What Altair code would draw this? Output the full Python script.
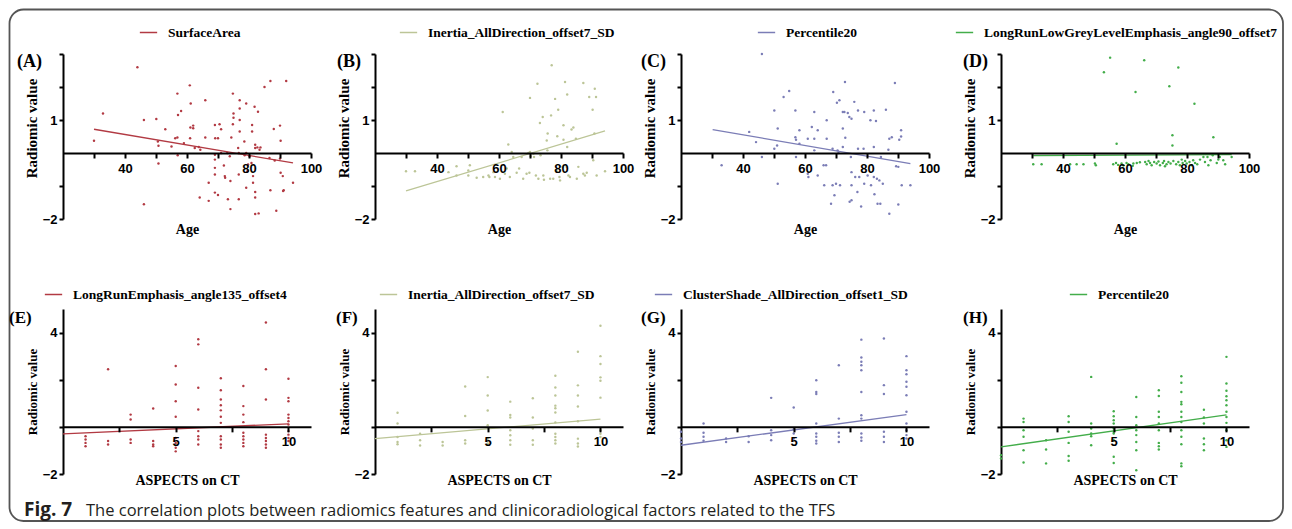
import altair as alt
import pandas as pd

RED = "#b23a43"
OLIVE = "#bcc597"
PURPLE = "#7b7db6"
GREEN = "#43ad4a"

features = ["SurfaceArea", "Inertia_AllDirection_offset7_SD", "Percentile20",
            "LongRunLowGreyLevelEmphasis_angle90_offset7",
            "LongRunEmphasis_angle135_offset4", "Inertia_AllDirection_offset7_SD",
            "ClusterShade_AllDirection_offset1_SD", "Percentile20"]
letters = ["(A)", "(B)", "(C)", "(D)", "(E)", "(F)", "(G)", "(H)"]
colors = [RED, OLIVE, PURPLE, GREEN, RED, OLIVE, PURPLE, GREEN]

# ---- top row: (Age, radiomic value) ----
A_points = [(44,2.6),(32.9,1.2),(30,0.37),(46.1,1.0),(50.1,1.03),(53,0.72),(50.6,0.35),(50.8,0.22),(50.8,-0.32),(46.1,-1.55),(55,0.2),(56.2,0.45),(56.9,0.47),(56.9,1.8),(57.1,1.15),(58.1,1.27),(59,0.3),(60.9,2.05),(61.2,1.5),(61.1,0.77),(62,0.75),(62,0.83),(61,0.45),(62.5,0.15),(63.8,0.18),(64.3,0.1),(57,-0.07),(65.9,1.6),(65.9,0.47),(64.1,-1.35),(67,-0.9),(67,-1.45),(69,0.85),(69.1,0.45),(70,0.45),(71,0.72),(70.5,0.87),(69,-0.05),(69,-0.2),(69,-0.45),(69,-0.65),(69,-1.2),(70,-1.27),(71,0),(71.9,-0.38),(72.2,-0.7),(72.3,-0.75),(73.2,-1.4),(74,-0.85),(74,-1.7),(73.8,-0.1),(73,0),(74.3,0.47),(74.8,1.8),(75,1.2),(75,1.07),(74.8,0.87),(76.5,0.15),(76.7,0),(76.7,-0.65),(76.7,-1.4),(77,1.6),(77,1.35),(77,1.0),(77,0.65),(78.5,0.35),(78.6,-0.07),(79.1,1.5),(79.1,0),(79.1,-1.05),(79.5,-0.55),(79.7,-0.35),(80.2,-0.1),(80.8,-0.3),(81,0.85),(81,0.65),(81.3,-0.7),(81.3,-0.9),(81.8,1.4),(82,0.25),(82,0.15),(82,-1.35),(82,-1.18),(82,-1.85),(82.7,0.17),(82.9,1.25),(83.1,-1.83),(83.7,0.17),(83.4,0.1),(85,2.0),(86.9,2.18),(86.9,-1.13),(86.6,-0.15),(88,0.73),(88.3,-0.23),(88.8,-1.75),(90,0.83),(90.2,0.37),(90.2,-0.6),(90.9,-0.7),(91.2,-1.13),(91,-1.15),(92,2.18),(94.2,-0.9),(90,-0.17)]
B_points = [(30,-0.55),(32.9,-0.55),(43.7,-0.58),(46.3,-0.4),(46.3,-0.68),(50.1,-0.53),(50.6,-0.37),(50.1,-0.68),(52.8,-0.75),(54.9,-0.73),(56.6,-0.68),(56.9,-0.73),(58.2,-0.58),(58.7,-0.73),(60.3,-0.78),(61.2,1.24),(61.9,-0.63),(62.5,-0.47),(63,0.26),(63.5,-0.73),(64.1,0.03),(64.6,-0.12),(65.7,-0.6),(66.5,-0.47),(67.3,-0.12),(67.8,-0.78),(68.9,-0.63),(69.5,0),(70,1.67),(70,0.03),(70.2,-0.1),(69.8,-0.6),(71.1,-0.02),(71.3,-0.12),(71.9,-0.68),(72.4,2.1),(72.7,-0.78),(73.2,0.91),(73.4,-0.07),(74.1,1.09),(74.3,-0.68),(74.5,-0.81),(75.4,0.38),(75.7,0.59),(75.6,0.08),(76.5,-0.78),(76.8,1.14),(77,2.66),(77.5,-0.78),(78.1,1.64),(78.6,-0.55),(78.8,0.51),(79.1,1.31),(79.5,-0.73),(79.7,-0.83),(80.5,-0.42),(80.8,0.84),(80.8,0.4),(81.3,2.15),(81.8,-0.42),(82,0.18),(82,1.77),(82.4,-0.68),(82.9,-0.73),(83.4,0.71),(84,0.77),(84.8,0.43),(85.1,-0.78),(85.6,-0.42),(87.2,2.12),(87.2,-0.63),(87.7,-0.68),(88.3,-0.6),(89.1,1.7),(90.2,1.31),(90.4,-0.22),(90.8,0.59),(90.9,1.95),(91.3,1.7),(91.5,-0.68),(94.2,-0.55)]
C_points = [(33.1,-0.37),(42,0.64),(44.2,0.33),(46.1,3.0),(46.1,-0.12),(50.1,1.29),(50.1,0.13),(51,0.23),(51.2,0.74),(51.2,-0.93),(53.1,1.7),(54.9,1.88),(56.9,1.29),(56.9,0.48),(57.1,0.4),(57.1,-0.12),(58.2,0.69),(58.2,0.28),(60.9,0.43),(60.9,-0.63),(61.1,-0.73),(62.2,0.79),(63,1.24),(63,0.43),(63,0.08),(64.1,0.69),(64.1,-0.68),(66,-0.37),(66.8,-0.37),(67,0.99),(67,0.43),(66.2,-0.98),(68.4,-1.54),(68.9,0.13),(68.9,-0.98),(69.1,1.85),(69.5,-1.28),(70,-0.93),(70.3,1.52),(70.5,0.08),(70.8,0),(71.1,1.6),(71.3,-0.98),(72.2,1.24),(72.2,0.74),(72.2,0.18),(72.7,1.24),(72.9,2.15),(73,0.46),(73.8,1.21),(74.3,1.09),(74.4,-1.48),(74.8,-0.12),(75,-0.58),(75,1.04),(75,-0.98),(75,-1.43),(75.9,1.55),(76.2,-0.73),(76.9,-1.18),(77.1,0.13),(77.1,1.29),(77.5,-0.73),(78.1,-1.62),(78.9,0.13),(79.1,1.24),(79.1,-0.93),(80.2,-0.68),(81.1,0.99),(81.3,-0.98),(82.2,0.18),(82.2,-0.73),(82.2,1.29),(82.4,-1.25),(82.9,0.97),(83.2,-0.78),(83.4,-1.54),(84,-0.83),(84.3,-1.54),(84.5,-0.12),(85.1,-0.93),(86.1,1.31),(86.9,0.1),(87.2,-1.84),(87.2,0.43),(88,0.48),(89,2.12),(89.4,-0.4),(90.1,-0.42),(90.1,-1.56),(90.4,0.4),(91,0.5),(91,0.69),(91.2,-0.98),(94,-0.98)]
D_points = [(53.2,2.45),(55.2,2.89),(57.3,0.28),(63.4,1.85),(66.2,2.81),(74.3,2.02),(75.3,0.54),(75.3,0.23),(77.2,2.59),(82.4,1.49),(88.5,0.48),(30.4,-0.34),(33.1,-0.34),(42.3,-0.34),(44.4,-0.34),(46.6,-0.34),(50.3,-0.32),(50.6,-0.37),(56.2,-0.34),(57.1,-0.3),(57.8,-0.36),(58.9,-0.32),(59.5,-0.38),(60.5,-0.3),(61.1,-0.34),(62.7,-0.32),(63.8,-0.3),(64.8,-0.28),(66.5,-0.27),(67,-0.34),(68.1,-0.3),(68.6,-0.37),(69.4,-0.27),(70.2,-0.32),(70.8,-0.26),(71.3,-0.37),(72.2,-0.3),(72.6,-0.24),(73.4,-0.34),(74,-0.27),(74.7,-0.32),(75.6,-0.24),(76.5,-0.34),(77.2,-0.27),(77.7,-0.37),(78.6,-0.3),(79.4,-0.24),(79.9,-0.32),(80.8,-0.27),(81.5,-0.37),(82,-0.22),(82.6,-0.3),(83.3,-0.34),(84.2,-0.2),(85.3,-0.12),(85.8,-0.27),(86.6,-0.12),(86.9,-0.37),(87.6,-0.22),(88.3,-0.07),(89.6,-0.3),(90.1,-0.2),(90.6,-0.12),(91.7,-0.22),(92.3,-0.34),(94.4,-0.12),(78.3,-0.2),(72.9,-0.4),(67.6,-0.24),(62.5,-0.39)]

# ---- bottom row: ASPECTS score -> radiomic values ----
E_cols = {1: [-0.4,-0.54,-0.68,-0.82], 2: [2.44,-0.6,-0.75], 3: [0.52,0.31,-0.54,-0.68], 4: [0.78,-0.6,-0.75,-0.82], 5: [2.58,1.8,1.09,0.43,-0.47,-0.68,-0.89,-1.04], 6: [3.72,3.5,1.66,0.74,-0.18,-0.4,-0.54,-0.75], 7: [2.06,1.55,1.16,0.92,0.7,0.43,0.17,-0.4,-0.54,-0.75,-0.89], 8: [1.73,0.88,0.52,0.2,-0.25,-0.4,-0.54,-0.68,-0.82], 9: [4.43,2.44,1.16,-0.33,-0.47,-0.6,-0.75,-0.89], 10: [2.04,1.23,1.09,0.52,0.38,0.24,0.1,-0.18,-0.33,-0.47,-0.6]}
F_cols = {1: [0.6,0.14,-0.43,-0.64,-0.74], 2: [-0.29,-0.57,-0.79], 3: [-0.64,-0.79], 4: [1.71,0.46,-0.57,-0.71], 5: [2.11,1.33,0.69,0.07,-0.5,-0.71], 6: [1.07,0.5,0.4,-0.14,-0.36,-0.57,-0.76], 7: [1.21,0.4,-0.07,-0.57,-0.76], 8: [2.17,1.67,1.33,0.9,0.79,0.61,0.19,-0.29,-0.43,-0.57,-0.71], 9: [3.19,1.76,1.33,0.86,0.24,-0.5,-0.71,-0.83], 10: [4.29,3.0,2.67,2.1,1.96,1.24,-0.14,-0.29,-0.43]}
G_cols = {0: [-0.21,-0.49,-0.64], 1: [0.14,-0.25,-0.42,-0.59], 2: [-0.49,-0.64], 3: [-0.4,-0.64], 4: [1.23,-0.14,-0.35,-0.57], 5: [0.82,-0.1,-0.28,-0.49], 6: [1.98,1.48,1.39,0.14,-0.28,-0.42,-0.59,-0.71], 7: [2.61,0.35,-0.25,-0.42,-0.64], 8: [3.7,2.94,2.76,2.61,2.4,1.48,0.49,0.35,-0.28,-0.45,-0.59], 9: [3.75,1.77,1.39,-0.21,-0.42,-0.64], 10: [3.0,2.4,2.23,1.91,1.7,1.34,0.64,0.14,-0.14,-0.35,-0.49]}
H_cols = {0: [-1.2,-1.34], 1: [0.35,0.21,-0.14,-0.42,-0.99,-1.51], 2: [-0.57,-0.96,-1.55], 3: [0.45,0.21,-0.21,-0.68,-1.24,-1.44], 4: [2.12,0.14,-0.07,-0.28,-0.4,-0.78], 5: [0.66,0.45,0.28,0.14,-0.07,-0.21,-0.28,-0.57,-1.27,-1.53], 6: [1.27,0.42,0.07,-0.14,-0.35,-0.64,-0.99,-1.84], 7: [1.55,1.31,0.64,0.42,0.14,-0.14,-0.68,-0.82,-0.96], 8: [2.15,1.87,1.48,1.06,0.96,0.64,0.42,0.21,-0.14,-0.42,-0.74,-1.55,-1.67], 9: [0.73,0.4,0.14,-0.49,-0.74,-0.99], 10: [2.97,1.84,1.53,1.3,1.13,0.92,0.64,0.42,0.17,-0.14,-0.57,-0.85]}

# fitted regression lines (endpoints)
fit_x = [[30, 94.2], [30, 94.2], [30.2, 94], [30.4, 94.4], [0, 10], [0, 10], [0, 10], [0, 10]]
fit_y = [[0.72, -0.3], [-1.15, 0.67], [0.71, -0.32], [-0.08, -0.05],
         [-0.3, 0.13], [-0.5, 0.33], [-0.78, 0.52], [-0.85, 0.51]]

legend_x = [76, 24, 76, -46, -19, 4, -27, 68]
letter_x = [-46, -38, -40, -38, -54, -39, -40, -38]

caption_bold = "Fig. 7"
caption_text = "The correlation plots between radiomics features and clinicoradiological factors related to the TFS"

W, H = 248, 165
# extra room right of each column's plot, so the panels sit at uneven distances
col_extra = [6, 0, 14, 0]
SERIF = "Liberation Serif"
SANS = "Liberation Sans"


def cols_to_points(cols):
    return [(k, v) for k, vals in cols.items() for v in vals]


def panel(i, pts, extra=None):
    top = i < 4
    color = colors[i]
    df = pd.DataFrame(pts, columns=["x", "y"])
    fit = pd.DataFrame({"x": fit_x[i], "y": fit_y[i], "feature": [features[i]] * 2})
    if top:
        xdom, ydom = [20, 100], [-2, 3]
        xvals, yvals = [30, 40, 50, 60, 70, 80, 90, 100], [-2, -1, 1, 2, 3]
        xlab = "datum.value % 20 == 0 ? datum.label : ''"
        ylab = "(datum.value == -2 || datum.value == 1) ? datum.label : ''"
        xtitle, off, ty = "Age", -H * 2 / 5, 76
    else:
        xdom, ydom = [0, 11], [-2, 5]
        xvals, yvals = [2.5, 5, 7.5, 10], [-2, 0, 2, 4]
        xlab = "(datum.value == 5 || datum.value == 10) ? datum.label : ''"
        ylab = "(datum.value == -2 || datum.value == 4) ? datum.label : ''"
        xtitle, off, ty = "ASPECTS on CT", -H * 2 / 7, 54
    common = dict(labelFont=SANS, labelFontWeight="bold", labelFontSize=13, labelColor="black",
                  titleFont=SERIF, titleFontWeight="bold", titleColor="black",
                  domainColor="black", domainWidth=2, tickColor="black", tickWidth=2,
                  grid=False, labelFlush=False, labelOverlap=False)
    xaxis = alt.Axis(values=xvals, labelExpr=xlab, title=xtitle, offset=off, titleX=W / 2, titleY=ty,
                     titleBaseline="middle", titleFontSize=14, tickSize=5, labelPadding=4, zindex=1, **common)
    yargs = dict(values=yvals, labelExpr=ylab, title="Radiomic value", titlePadding=3,
                 titleFontSize=15 if top else 13, tickSize=4, labelPadding=2, **common)
    if top:
        yargs["titleY"] = 74
    yaxis = alt.Axis(**yargs)
    X = alt.X("x:Q", scale=alt.Scale(domain=xdom, range=[0, W], nice=False, zero=False), axis=xaxis)
    Y = alt.Y("y:Q", scale=alt.Scale(domain=ydom, nice=False, zero=False), axis=yaxis)
    pts_layer = alt.Chart(df).mark_circle(size=6, color=color, opacity=1).encode(x=X, y=Y)
    line_layer = alt.Chart(fit).mark_line(strokeWidth=1.3).encode(
        x=X, y=Y,
        color=alt.Color("feature:N", scale=alt.Scale(domain=[features[i]], range=[color]),
                        legend=alt.Legend(orient="none", legendX=legend_x[i], legendY=-31 if top else -24,
                                          title=None, symbolType="stroke", symbolSize=300,
                                          symbolStrokeWidth=1.5, labelFont=SERIF, labelFontWeight="bold",
                                          labelFontSize=13.5, labelColor="black", labelOffset=10,
                                          labelLimit=0, padding=0)))
    letter_layer = alt.Chart(pd.DataFrame({"t": [letters[i]]})).mark_text(
        align="left", baseline="middle", font=SERIF, fontWeight="bold",
        fontSize=18 if top else 17, color="black").encode(
        text="t:N", x=alt.value(letter_x[i]), y=alt.value(8 if top else 9))
    layers = [pts_layer, line_layer, letter_layer]
    if extra:
        layers += extra
    return alt.layer(*layers).properties(width=W + col_extra[i % 4], height=H)


border = alt.Chart(pd.DataFrame({"a": [0]})).mark_rect(
    fill="white", fillOpacity=0, stroke="#555555", strokeWidth=1.8, cornerRadius=14).encode(
    x=alt.value(-53.5), x2=alt.value(1220), y=alt.value(-44.5), y2=alt.value(467))
cap1 = alt.Chart(pd.DataFrame({"t": [caption_bold]})).mark_text(
    align="left", baseline="alphabetic", font="Open Sans", fontWeight="bold", fontSize=19,
    color="#231f20").encode(text="t:N", x=alt.value(-39), y=alt.value(462))
cap2 = alt.Chart(pd.DataFrame({"t": [caption_text]})).mark_text(
    align="left", baseline="alphabetic", font="Open Sans", fontSize=16.5,
    color="#231f20").encode(text="t:N", x=alt.value(23), y=alt.value(462))

panels = [
    panel(0, A_points, [border, cap1, cap2]),
    panel(1, B_points),
    panel(2, C_points),
    panel(3, D_points),
    panel(4, cols_to_points(E_cols)),
    panel(5, cols_to_points(F_cols)),
    panel(6, cols_to_points(G_cols)),
    panel(7, cols_to_points(H_cols)),
]

chart = alt.concat(*panels, columns=4, bounds="flush", align="each",
                   spacing=alt.RowColnumber(row=90, column=58))
chart = chart.resolve_scale(x="independent", y="independent", color="independent").resolve_legend(color="independent")
chart = chart.properties(padding=0, background="white").configure_view(strokeWidth=0)

chart.save("out.html", embed_options={"renderer": "svg", "actions": False})
